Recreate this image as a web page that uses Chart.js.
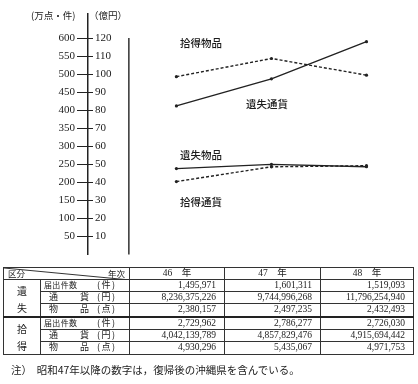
<!DOCTYPE html>
<html>
<head>
<meta charset="utf-8">
<script src="https://cdn.jsdelivr.net/npm/chart.js@4.4.0/dist/chart.umd.min.js"></script>
<style>
html,body{margin:0;padding:0;background:#fff;}
body{width:418px;height:384px;position:relative;overflow:hidden;font-family:"Noto Sans CJK JP",sans-serif;color:#1c1c1c;}
#chart{position:absolute;left:0;top:0;}
.lbl{position:absolute;font-size:10.5px;line-height:12px;white-space:nowrap;font-weight:500;}
.hd{position:absolute;font-size:9.5px;line-height:11px;white-space:nowrap;top:10px;}
table{position:absolute;left:3px;top:267px;border-collapse:collapse;table-layout:fixed;width:410px;border:1.5px solid #222;}
td{border:1px solid #333;padding:0;font-size:9px;line-height:9px;height:10px;position:relative;overflow:hidden;white-space:nowrap;}
tr{height:11.2px;}
tr.head{height:11.5px;}
tr.sep td{border-top:2px solid #222;}
td.num{text-align:right;padding-right:8px;font-family:"Liberation Serif",serif;font-size:9.5px;}
td.yr{text-align:center;font-family:"Liberation Serif","Noto Sans CJK JP",serif;font-size:9.5px;}
td.grp{text-align:center;font-size:10px;line-height:17px;vertical-align:middle;padding-top:2px;white-space:normal;}
.nm{position:absolute;top:0;text-align:justify;text-align-last:justify;line-height:10px;}
.un{position:absolute;top:0;left:56px;letter-spacing:1.5px;line-height:10px;}
.hx{position:absolute;top:0;line-height:11px;}
#note{position:absolute;left:11px;top:363px;font-size:10.5px;line-height:13px;white-space:nowrap;}
</style>
</head>
<body>
<canvas id="chart" width="418" height="268"></canvas>
<div class="hd" style="left:31px">(万点・件)</div>
<div class="hd" style="left:89px">（億円）</div>
<div class="lbl" style="left:180px;top:37px">拾得物品</div>
<div class="lbl" style="left:246px;top:98px">遺失通貨</div>
<div class="lbl" style="left:180px;top:149px">遺失物品</div>
<div class="lbl" style="left:180px;top:196px">拾得通貨</div>
<table id="tbl">
<colgroup><col style="width:37px"><col style="width:89px"><col style="width:95px"><col style="width:96px"><col style="width:93px"></colgroup>
</table>
<div id="note">注）&nbsp;&nbsp;昭和47年以降の数字は，復帰後の沖縄県を含んでいる。</div>
<script>
// ----------------- DATA -----------------
const years = [46, 47, 48];
const yearLabels = ['46　年', '47　年', '48　年'];
const leftTicks = [50, 100, 150, 200, 250, 300, 350, 400, 450, 500, 550, 600]; // 万点・件
const rightTicks = [10, 20, 30, 40, 50, 60, 70, 80, 90, 100, 110, 120];       // 億円

const foundItems = [493.0, 543.5, 497.2];  // 拾得物品 (万点)
const lostMoney = [82.4, 97.4, 118.0];     // 遺失通貨 (億円)
const lostItems = [238.0, 249.7, 243.2];   // 遺失物品 (万点)
const foundMoney = [40.4, 48.6, 49.2];     // 拾得通貨 (億円)

// table
const groups = ['遺<br>失', '拾<br>得'];
const rowNames = ['届出件数', '通貨', '物品', '届出件数', '通貨', '物品'];
const rowUnits = ['(件)', '(円)', '(点)', '(件)', '(円)', '(点)'];
const col46 = ['1,495,971', '8,236,375,226', '2,380,157', '2,729,962', '4,042,139,789', '4,930,296'];
const col47 = ['1,601,311', '9,744,996,268', '2,497,235', '2,786,277', '4,857,829,476', '5,435,067'];
const col48 = ['1,519,093', '11,796,254,940', '2,432,493', '2,726,030', '4,915,694,442', '4,971,753'];

// ----------------- TABLE -----------------
function buildTable() {
  const tbl = document.getElementById('tbl');
  let html = '<tr class="head"><td colspan="2" style="font-size:8.5px">'
    + '<svg width="126" height="12" style="position:absolute;left:0;top:0"><line x1="0" y1="0" x2="126" y2="12" stroke="#333" stroke-width="1"/></svg>'
    + '<span class="hx" style="left:4px">区分</span>'
    + '<span class="hx" style="right:4px">年次</span></td>';
  yearLabels.forEach(y => { html += '<td class="yr">' + y + '</td>'; });
  html += '</tr>';
  rowNames.forEach((n, i) => {
    html += '<tr' + (i === 3 ? ' class="sep"' : '') + '>';
    if (i % 3 === 0) html += '<td class="grp" rowspan="3">' + groups[i / 3] + '</td>';
    const wide = n.length === 2;
    const nm = wide
      ? '<span class="nm" style="left:8px;width:40px">' + n + '</span>'
      : '<span class="nm" style="left:3px;width:33px;font-size:8px">' + n + '</span>';
    html += '<td>' + nm + '<span class="un">' + rowUnits[i] + '</span></td>';
    html += '<td class="num">' + col46[i] + '</td><td class="num">' + col47[i] + '</td><td class="num">' + col48[i] + '</td>';
    html += '</tr>';
  });
  tbl.insertAdjacentHTML('beforeend', html);
}
buildTable();

// ----------------- CHART -----------------
const INK = '#222';
const pts = arr => arr.map((v, i) => ({ x: years[i], y: v }));

function series(data, axis, dashed) {
  return {
    data: pts(data), yAxisID: axis,
    borderColor: INK, borderWidth: 1.4, borderDash: dashed ? [3, 2] : [],
    pointRadius: 1.6, pointBackgroundColor: INK, pointBorderWidth: 0,
    tension: 0, fill: false
  };
}

// column divider of the table carried up into the plot
const dividerPlugin = {
  id: 'divider',
  afterDatasetsDraw(chart) {
    const { ctx, scales } = chart;
    const x = scales.x.getPixelForValue(45.5);
    ctx.save();
    ctx.strokeStyle = INK;
    ctx.lineWidth = 1.4;
    ctx.beginPath();
    ctx.moveTo(x, scales.y.getPixelForValue(600));
    ctx.lineTo(x, chart.chartArea.bottom);
    ctx.stroke();
    ctx.restore();
  }
};

new Chart(document.getElementById('chart'), {
  type: 'line',
  data: {
    datasets: [
      series(foundItems, 'y', true),
      series(lostMoney, 'y2', false),
      series(lostItems, 'y', false),
      series(foundMoney, 'y2', true)
    ]
  },
  options: {
    responsive: false, animation: false,
    layout: { padding: { top: 5, right: 4, left: 0, bottom: 0 } },
    plugins: { legend: { display: false }, tooltip: { enabled: false } },
    scales: {
      x: { type: 'linear', min: 45.07, max: 48.5, display: false },
      y: {
        position: 'left', weight: 1, min: 0, max: 668,
        afterBuildTicks: s => { s.ticks = leftTicks.map(v => ({ value: v })); },
        afterFit: s => { s.width = 88; },
        grid: { drawOnChartArea: false, tickLength: 11, color: INK, lineWidth: 1 },
        border: { display: true, color: INK, width: 1.5 },
        ticks: { padding: 2, color: INK, font: { family: 'Liberation Serif', size: 11 } }
      },
      y2: {
        position: 'left', weight: 0, min: 0, max: 133.6,
        afterBuildTicks: s => { s.ticks = rightTicks.map(v => ({ value: v })); },
        afterFit: s => { s.width = 0; },
        grid: { drawOnChartArea: false, tickLength: -5, color: INK, lineWidth: 1 },
        border: { display: false },
        ticks: { mirror: true, padding: 7, color: INK, font: { family: 'Liberation Serif', size: 11 } }
      }
    }
  },
  plugins: [dividerPlugin]
});
</script>
</body>
</html>
